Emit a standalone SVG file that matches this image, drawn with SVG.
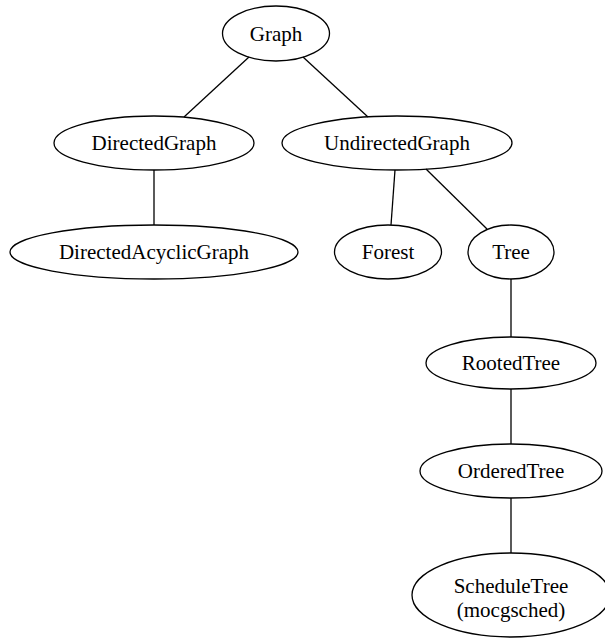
<svg xmlns="http://www.w3.org/2000/svg" width="605" height="640" viewBox="0 0 605 640">
  <style>
    .node ellipse { fill: none; stroke: #000; stroke-width: 1.3; }
    .node text { font-family: "Liberation Serif", "Times New Roman", serif; font-size: 21px; fill: #000; text-anchor: middle; }
    .edges line { stroke: #000; stroke-width: 1.3; }
  </style>
  <rect width="605" height="640" fill="#fff"/>

  <!-- connectors -->
  <g id="edges" class="edges">
    <line x1="249" y1="57" x2="184" y2="117"/>
    <line x1="303" y1="57" x2="368" y2="117"/>
    <line x1="154" y1="170" x2="154" y2="225"/>
    <line x1="395" y1="170" x2="391" y2="225"/>
    <line x1="426" y1="169" x2="487" y2="229"/>
    <line x1="511" y1="279" x2="511" y2="337"/>
    <line x1="511" y1="389" x2="511" y2="444"/>
    <line x1="511" y1="498" x2="511" y2="553"/>
  </g>

  <g id="node-graph" class="node">
    <ellipse cx="276" cy="33.5" rx="53.5" ry="27.5"/>
    <text x="276" y="40.5">Graph</text>
  </g>
  <g id="node-directedgraph" class="node">
    <ellipse cx="154" cy="143" rx="100" ry="27"/>
    <text x="154" y="150">DirectedGraph</text>
  </g>
  <g id="node-undirectedgraph" class="node">
    <ellipse cx="397" cy="143" rx="115" ry="27"/>
    <text x="397" y="150">UndirectedGraph</text>
  </g>
  <g id="node-directedacyclicgraph" class="node">
    <ellipse cx="154" cy="252" rx="144" ry="27"/>
    <text x="154" y="259">DirectedAcyclicGraph</text>
  </g>
  <g id="node-forest" class="node">
    <ellipse cx="388" cy="252" rx="53.5" ry="27"/>
    <text x="388" y="259">Forest</text>
  </g>
  <g id="node-tree" class="node">
    <ellipse cx="511" cy="252" rx="43" ry="27"/>
    <text x="511" y="259">Tree</text>
  </g>
  <g id="node-rootedtree" class="node">
    <ellipse cx="511" cy="363" rx="85" ry="26"/>
    <text x="511" y="370">RootedTree</text>
  </g>
  <g id="node-orderedtree" class="node">
    <ellipse cx="511" cy="471" rx="91" ry="27"/>
    <text x="511" y="478">OrderedTree</text>
  </g>
  <g id="node-scheduletree" class="node">
    <ellipse cx="511" cy="595" rx="99" ry="42"/>
    <text x="511" y="593">ScheduleTree</text>
    <text x="511" y="617">(mocgsched)</text>
  </g>
</svg>
